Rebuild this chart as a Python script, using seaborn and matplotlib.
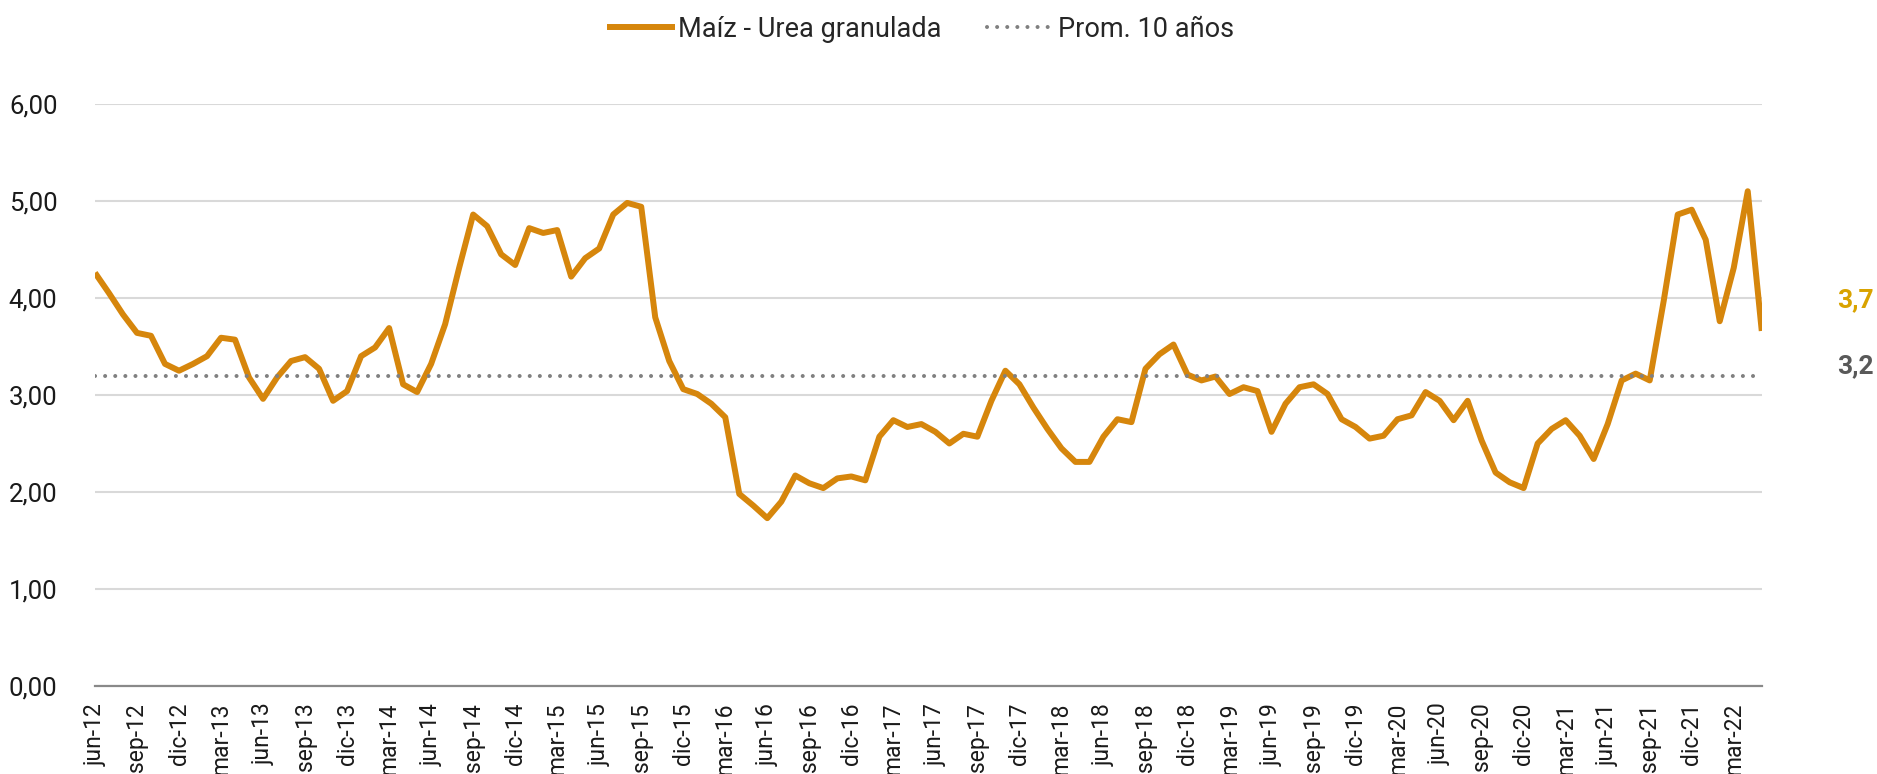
import numpy as np
import pandas as pd
import matplotlib
matplotlib.use("Agg")
import matplotlib.pyplot as plt
import seaborn as sns
from matplotlib.ticker import FuncFormatter

# -----------------------------
# Data (relación Maíz - Urea granulada, mensual jun-12 a may-22)
# -----------------------------
meses = ['ene', 'feb', 'mar', 'abr', 'may', 'jun',
         'jul', 'ago', 'sep', 'oct', 'nov', 'dic']
start_year, start_month, n_months = 2012, 6, 120

relacion = [
    4.26, 4.05, 3.83, 3.64, 3.61, 3.32, 3.25, 3.32, 3.40, 3.59,
    3.57, 3.18, 2.96, 3.18, 3.35, 3.39, 3.27, 2.94, 3.04, 3.40,
    3.49, 3.69, 3.11, 3.03, 3.32, 3.73, 4.31, 4.86, 4.74, 4.45,
    4.34, 4.72, 4.67, 4.70, 4.22, 4.41, 4.51, 4.86, 4.98, 4.94,
    3.80, 3.35, 3.06, 3.01, 2.91, 2.77, 1.98, 1.86, 1.73, 1.90,
    2.17, 2.09, 2.04, 2.14, 2.16, 2.12, 2.57, 2.74, 2.67, 2.70,
    2.62, 2.50, 2.60, 2.57, 2.94, 3.25, 3.11, 2.87, 2.65, 2.45,
    2.31, 2.31, 2.57, 2.75, 2.72, 3.27, 3.42, 3.52, 3.21, 3.15,
    3.19, 3.01, 3.08, 3.04, 2.62, 2.91, 3.08, 3.11, 3.01, 2.75,
    2.67, 2.55, 2.58, 2.75, 2.79, 3.03, 2.94, 2.74, 2.94, 2.53,
    2.20, 2.10, 2.04, 2.50, 2.65, 2.74, 2.58, 2.34, 2.70, 3.15,
    3.22, 3.15, 3.97, 4.86, 4.91, 4.60, 3.76, 4.31, 5.10, 3.66,
]
promedio_10 = 3.195

fechas = []
for k in range(n_months):
    m = (start_month - 1 + k) % 12
    y = start_year + (start_month - 1 + k) // 12
    fechas.append(f"{meses[m]}-{y % 100:02d}")

df = pd.DataFrame({
    'idx': np.arange(n_months),
    'fecha': fechas,
    'relacion': relacion,
    'prom': [promedio_10] * n_months,
})

# -----------------------------
# Style
# -----------------------------
sns.set_style("white")
plt.rcParams['font.family'] = ['Roboto', 'DejaVu Sans']

line_color = '#D6860C'
prom_color = '#808080'

fig = plt.figure(figsize=(18.77, 7.74), dpi=100)
ax = fig.add_axes([0.0506, 0.1137, 0.888, 0.752])

# -----------------------------
# Plot
# -----------------------------
sns.lineplot(data=df, x='idx', y='relacion', ax=ax, color=line_color,
             lw=4.3, label='Maíz - Urea granulada')
sns.lineplot(data=df, x='idx', y='prom', ax=ax, color=prom_color,
             lw=2.9, label='Prom. 10 años')
for ln in ax.get_lines():
    ln.set_solid_joinstyle('round')
    ln.set_solid_capstyle('butt')
prom_line = ax.get_lines()[1]
prom_line.set_linestyle((0, (0.01, 2.5)))
prom_line.set_dash_capstyle('round')

ax.set_xlim(0, n_months - 1)
ax.set_ylim(0, 6)
ax.set_yticks(np.arange(0, 7, 1))
ax.yaxis.set_major_formatter(FuncFormatter(lambda v, p: f"{v:.2f}".replace('.', ',')))
ax.set_xticks(df['idx'][::3])
ax.set_xticklabels(df['fecha'][::3], rotation=90)

ax.set_xlabel('')
ax.set_ylabel('')
ax.yaxis.grid(True, color='#D9D9D9', lw=1.5)
ax.set_axisbelow(True)
for s in ['left', 'right', 'top']:
    ax.spines[s].set_visible(False)
ax.spines['bottom'].set_color('#898989')
ax.spines['bottom'].set_linewidth(1.6)
ax.tick_params(axis='y', length=0, pad=27, labelsize=18.5, labelcolor='#1a1a1a')
ax.tick_params(axis='x', length=0, pad=12, labelsize=16.5, labelcolor='#1a1a1a')

# end labels
last = relacion[-1]
ax.text(124.4, 3.98, f"{last:.1f}".replace('.', ','), color='#D9A300',
        fontsize=19, fontweight='bold', va='center', ha='left')
ax.text(124.4, 3.30, f"{promedio_10:.1f}".replace('.', ','), color='#595959',
        fontsize=19, fontweight='bold', va='center', ha='left')

# legend
handles, labels = ax.get_legend_handles_labels()
ax.get_legend().remove()
fig.legend(handles, labels, loc='center', bbox_to_anchor=(0.4904, 0.962),
           ncol=2, frameon=False, fontsize=19.5, handlelength=2.5,
           handletextpad=0.1, columnspacing=1.7)

plt.savefig('out.png', dpi=100)
plt.close()
